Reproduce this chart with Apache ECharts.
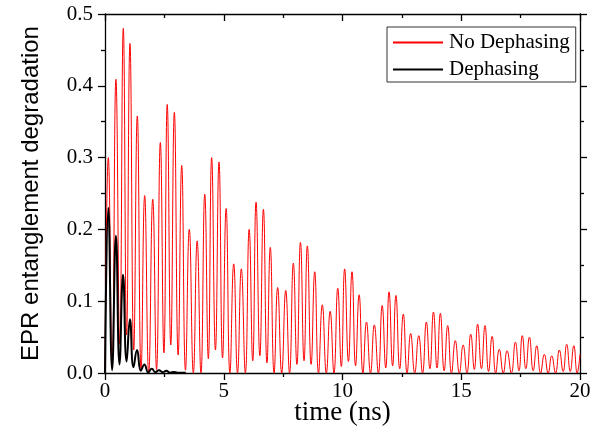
<!DOCTYPE html>
<html><head><meta charset="utf-8">
<script src="https://cdn.jsdelivr.net/npm/echarts@6/dist/echarts.min.js"></script>
<style>html,body{margin:0;padding:0;background:#fff}#c{width:601px;height:438px}</style>
</head><body><div id="c"></div>
<script>
// Red series: "No Dephasing" — peak and trough readings (time in ns, value)
const peakT = [0.14,0.46,0.77,1.05,1.36,1.67,2.01,2.33,2.62,2.92,
  3.23,3.55,3.88,4.20,4.49,4.80,5.10,5.42,5.74,6.07,
  6.36,6.67,6.96,7.27,7.61,7.93,8.23,8.52,8.83,9.15,
  9.48,9.80,10.09,10.40,10.70,11.01,11.34,11.67,11.96,12.25,
  12.56,12.87,13.21,13.53,13.83,14.12,14.43,14.75,15.08,15.40,
  15.69,16.00,16.30,16.60,16.93,17.28,17.57,17.87,18.18,18.50,
  18.81,19.13,19.44,19.74];
const peakY = [0.300,0.409,0.480,0.459,0.358,0.247,0.242,0.321,0.374,0.363,
  0.289,0.200,0.184,0.249,0.300,0.294,0.229,0.152,0.145,0.200,
  0.238,0.228,0.175,0.119,0.115,0.153,0.182,0.177,0.141,0.095,
  0.086,0.118,0.145,0.141,0.109,0.071,0.067,0.094,0.113,0.108,
  0.082,0.055,0.052,0.071,0.085,0.083,0.066,0.045,0.039,0.054,
  0.068,0.066,0.051,0.033,0.031,0.043,0.052,0.050,0.038,0.026,
  0.024,0.032,0.040,0.038];
const troughT = [0.30,0.62,0.91,1.21,1.52,1.84,2.17,2.48,2.77,3.08,
  3.39,3.72,4.04,4.35,4.65,4.95,5.26,5.58,5.91,6.22,
  6.52,6.82,7.12,7.44,7.77,8.08,8.38,8.68,8.99,9.32,
  9.64,9.95,10.25,10.55,10.86,11.18,11.51,11.82,12.11,12.41,
  12.72,13.04,13.37,13.68,13.98,14.28,14.59,14.92,15.24,15.55,
  15.85,16.15,16.45,16.77,17.11,17.43,17.72,18.03,18.34,18.66,
  18.97,19.29,19.59,19.88];
const troughY = [0.010,0.040,0.053,0.032,0.005,0,0.005,0.028,0.039,0.025,
  0.004,0,0,0.020,0.032,0.021,0,0,0,0.017,
  0.024,0.014,0,0,0,0.012,0.017,0.012,0,0,
  0,0.009,0.016,0.010,0,0,0,0.007,0.010,0.006,
  0,0,0,0.006,0.007,0.003,0,0,0,0.005,
  0.006,0.002,0,0,0,0.003,0.006,0.003,0,0,
  0,0.002,0.002,0];
const redStart = [0, 0];
const redEnd = [20, 0.026];

// Black series: "Dephasing"
const blackT = [0,0.14,0.30,0.46,0.61,0.76,0.91,1.05,1.20,1.35,1.51,1.66,1.82,1.97,2.12,2.27,2.43,2.58,2.74,2.90,3.05,3.40];
const blackY = [0,0.230,0.004,0.191,0.012,0.137,0.016,0.075,0.008,0.032,0.003,0.012,0.001,0.006,0.001,0.004,0.001,0.003,0.0005,0.0015,0.0005,0.0005];

const seriesNames = ['No Dephasing', 'Dephasing'];
const xTitle = 'time (ns)';
const yTitle = 'EPR entanglement degradation';

const redData = [redStart];
for (let i = 0; i < peakT.length; i++) {
  redData.push([peakT[i], peakY[i]]);
  redData.push([troughT[i], troughY[i]]);
}
redData.push(redEnd);
const blackData = blackT.map((t, i) => [t, blackY[i]]);

const serif = 'Liberation Serif, Times New Roman, serif';
const axisLineStyle = {color: '#000', width: 1.3};

const chart = echarts.init(document.getElementById('c'), null, {renderer: 'canvas'});
chart.setOption({
  animation: false,
  backgroundColor: '#fff',
  grid: {left: 105, right: 21, top: 14, bottom: 65, containLabel: false},
  legend: {
    orient: 'vertical', left: 387, top: 27,
    padding: [5, 6, 2, 5], itemWidth: 50, itemHeight: 18, itemGap: 6,
    borderColor: '#333', borderWidth: 1,
    itemStyle: {opacity: 0},
    textStyle: {fontFamily: serif, fontSize: 21, color: '#000', padding: [0,0,0,1]},
    data: seriesNames
  },
  xAxis: [{
    type: 'value', min: 0, max: 20, interval: 5, position: 'bottom',
    name: xTitle, nameLocation: 'middle', nameGap: 26, nameMoveOverlap: false,
    nameTextStyle: {fontFamily: serif, fontSize: 27, color: '#000'},
    axisLine: {show: true, onZero: false, lineStyle: axisLineStyle},
    axisTick: {show: true, inside: false, length: 7, lineStyle: axisLineStyle},
    minorTick: {show: true, splitNumber: 2, length: 4, lineStyle: axisLineStyle},
    axisLabel: {fontFamily: serif, fontSize: 21, color: '#000', margin: 8},
    splitLine: {show: false}
  }, {
    type: 'value', min: 0, max: 20, interval: 5, position: 'top',
    axisLine: {show: true, onZero: false, lineStyle: axisLineStyle},
    axisTick: {show: true, inside: true, length: 7, lineStyle: axisLineStyle},
    minorTick: {show: true, splitNumber: 2, length: 4, lineStyle: axisLineStyle},
    axisLabel: {show: false}, splitLine: {show: false}
  }],
  yAxis: [{
    type: 'value', min: 0, max: 0.5, interval: 0.1, position: 'left',
    name: yTitle, nameLocation: 'middle', nameGap: 62, nameRotate: 90, nameMoveOverlap: false,
    nameTextStyle: {fontFamily: 'Liberation Sans, Arial, sans-serif', fontSize: 24, color: '#000'},
    axisLine: {show: true, onZero: false, lineStyle: axisLineStyle},
    axisTick: {show: true, inside: false, length: 7, lineStyle: axisLineStyle},
    minorTick: {show: true, splitNumber: 2, length: 4, lineStyle: axisLineStyle},
    axisLabel: {fontFamily: serif, fontSize: 21, color: '#000', margin: 12,
      formatter: v => v.toFixed(1)},
    splitLine: {show: false}
  }, {
    type: 'value', min: 0, max: 0.5, interval: 0.1, position: 'right',
    axisLine: {show: true, onZero: false, lineStyle: axisLineStyle},
    axisTick: {show: true, inside: false, length: 7, lineStyle: axisLineStyle},
    minorTick: {show: true, splitNumber: 2, length: 4, lineStyle: axisLineStyle},
    axisLabel: {show: false}, splitLine: {show: false}
  }],
  series: [{
    name: seriesNames[0], type: 'line', data: redData,
    smooth: 0.5, symbol: 'none', clip: true,
    lineStyle: {color: '#ff0000', width: 1},
    itemStyle: {color: '#ff0000'}
  }, {
    name: seriesNames[1], type: 'line', data: blackData,
    smooth: 0.5, symbol: 'none', clip: true,
    lineStyle: {color: '#000', width: 2},
    itemStyle: {color: '#000'}
  }]
});
</script></body></html>
